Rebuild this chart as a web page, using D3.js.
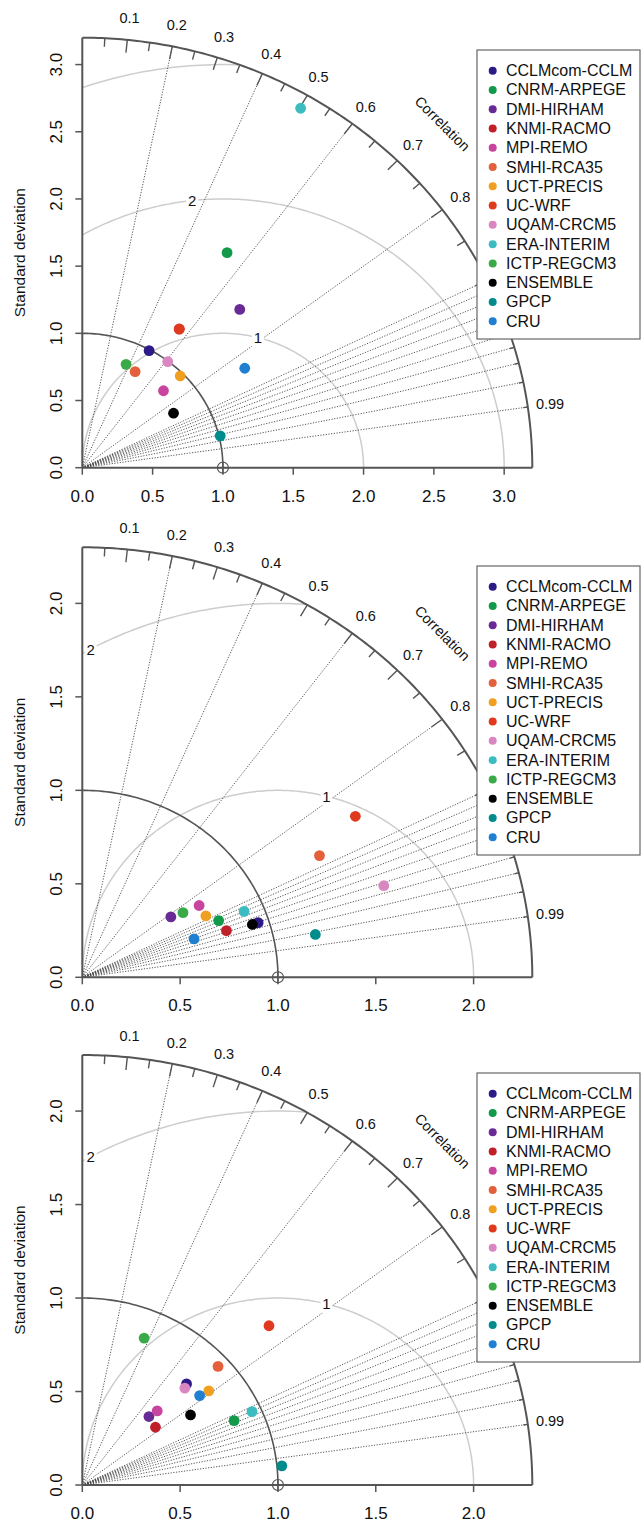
<!DOCTYPE html>
<html>
<head>
<meta charset="utf-8">
<script src="https://cdn.jsdelivr.net/npm/d3@7"></script>
<style>
  body { margin: 0; background: #fff; }
  svg { display: block; font-family: "Liberation Sans", Arial, sans-serif; }
</style>
</head>
<body>
<script>
// models in legend order
const models = ["CCLMcom-CCLM", "CNRM-ARPEGE", "DMI-HIRHAM", "KNMI-RACMO", "MPI-REMO",
  "SMHI-RCA35", "UCT-PRECIS", "UC-WRF", "UQAM-CRCM5", "ERA-INTERIM", "ICTP-REGCM3",
  "ENSEMBLE", "GPCP", "CRU"];
const colors = ["#2e1a87", "#129a4a", "#6a2a96", "#c0202a", "#c8449e", "#e4603c", "#f0a020",
  "#e03a1e", "#d987c0", "#3cbcc0", "#3aaa48", "#000000", "#008c8c", "#1f7fd0"];

// normalised standard deviation and correlation, one pair of arrays per panel
const sd1 = [0.992, 1.903, 1.625, 1.24, 0.813, 0.808, 0.975, 1.242, 0.996, 3.093, 0.830, 0.765, 1.009, 1.372];
const cor1 = [0.479, 0.541, 0.689, 0.556, 0.710, 0.465, 0.714, 0.555, 0.610, 0.502, 0.375, 0.848, 0.972, 0.842];
const sd2 = [0.945, 0.760, 0.556, 0.778, 0.710, 1.376, 0.712, 1.640, 1.617, 0.899, 0.620, 0.914, 1.213, 0.607];
const cor2 = [0.951, 0.917, 0.814, 0.947, 0.841, 0.881, 0.887, 0.851, 0.953, 0.920, 0.830, 0.951, 0.982, 0.941];
const sd3 = [0.759, 0.849, 0.500, 0.485, 0.551, 0.940, 0.819, 1.279, 0.737, 0.952, 0.847, 0.668, 1.025, 0.767];
const cor3 = [0.702, 0.914, 0.681, 0.771, 0.695, 0.738, 0.789, 0.746, 0.711, 0.911, 0.373, 0.828, 0.995, 0.782];

const sdTicks1 = [0, 0.5, 1, 1.5, 2, 2.5, 3];
const sdTicks23 = [0, 0.5, 1, 1.5, 2];
const corLabels = [0.1, 0.2, 0.3, 0.4, 0.5, 0.6, 0.7, 0.8, 0.9, 0.95, 0.99];
const bigTicks = [0.1, 0.2, 0.3, 0.4, 0.5, 0.6, 0.7, 0.8, 0.9];
const medTicks = [0.05, 0.15, 0.25, 0.35, 0.45, 0.55, 0.65, 0.75, 0.85, 0.95];
const tinyTicks = [0.91, 0.92, 0.93, 0.94, 0.95, 0.96, 0.97, 0.98, 0.99];
const corLines = [0.2, 0.4, 0.6, 0.8, 0.9, 0.91, 0.92, 0.93, 0.94, 0.95, 0.96, 0.97, 0.98, 0.99];

const panels = [
  { sd: sd1, cor: cor1, maxsd: 3.2, ticks: sdTicks1, gammas: [1, 2, 3], origin: 467.7, legendTop: 50 },
  { sd: sd2, cor: cor2, maxsd: 2.3, ticks: sdTicks23, gammas: [1, 2], origin: 977.3, legendTop: 566 },
  { sd: sd3, cor: cor3, maxsd: 2.3, ticks: sdTicks23, gammas: [1, 2], origin: 1485, legendTop: 1073 }
];

const W = 641, H = 1524;
const left = 82.3, plotW = 450, plotH = 430;
const axisCol = "#555";
const legX = 477, legW = 163, legH = 289;

const svg = d3.select("body").append("svg").attr("width", W).attr("height", H);

panels.forEach((p, pi) => {
  const x = d3.scaleLinear().domain([0, p.maxsd]).range([left, left + plotW]);
  const y = d3.scaleLinear().domain([0, p.maxsd]).range([p.origin, p.origin - plotH]);
  const g = svg.append("g");
  const line = d3.line().x(d => x(d[0])).y(d => y(d[1]));
  const arc = (r, cx, a0, a1, n) => d3.range(n + 1).map(i => {
    const a = a0 + (a1 - a0) * i / n;
    return [cx + r * Math.cos(a), r * Math.sin(a)];
  });
  const underLegend = (px, py) =>
    px > legX - 12 && px < legX + legW && py > p.legendTop - 8 && py < p.legendTop + legH + 8;

  // clip: quarter disc of radius maxsd
  const clipId = "clip" + pi;
  g.append("clipPath").attr("id", clipId)
    .append("path")
    .attr("d", line([[0, 0]].concat(arc(p.maxsd, 0, 0, Math.PI / 2, 120))) + "Z");

  // RMS difference circles around the reference point (1,0)
  const gg = g.append("g").attr("clip-path", `url(#${clipId})`);
  p.gammas.forEach(r => {
    gg.append("path")
      .attr("d", line(arc(r, 1, 0, Math.PI, 240)))
      .attr("fill", "none").attr("stroke", "#cdcdcd").attr("stroke-width", 1.5);
  });

  // correlation rays
  corLines.forEach(c => {
    const a = Math.acos(c);
    g.append("line")
      .attr("x1", x(0)).attr("y1", y(0))
      .attr("x2", x(p.maxsd * Math.cos(a))).attr("y2", y(p.maxsd * Math.sin(a)))
      .attr("stroke", "#444").attr("stroke-width", 0.9).attr("stroke-dasharray", "1.2,1.5");
  });

  // gamma labels (plotrix style label positions)
  const labelIdx = p.gammas.map((_, i) => Math.floor(45 + (70 - 45) * i / (p.gammas.length - 1)));
  p.gammas.forEach((r, i) => {
    const a = (labelIdx[i] - 1) * 0.03;
    const lx = 1 + r * Math.cos(a), ly = r * Math.sin(a);
    if (lx <= 0 || lx * lx + ly * ly > p.maxsd * p.maxsd) return;
    g.append("rect")
      .attr("x", x(lx) - 6).attr("y", y(ly) - 9).attr("width", 12).attr("height", 18)
      .attr("fill", "#fff");
    g.append("text")
      .attr("x", x(lx)).attr("y", y(ly))
      .attr("text-anchor", "middle").attr("dominant-baseline", "central")
      .attr("font-size", 15).attr("fill", "#111").text(r);
  });

  // reference sd arc and outer arc
  g.append("path").attr("d", line(arc(1, 0, 0, Math.PI / 2, 90)))
    .attr("fill", "none").attr("stroke", axisCol).attr("stroke-width", 1.6);
  g.append("path").attr("d", line(arc(p.maxsd, 0, 0, Math.PI / 2, 180)))
    .attr("fill", "none").attr("stroke", axisCol).attr("stroke-width", 2);

  // correlation ticks on the outer arc
  [[bigTicks, 0.97], [medTicks, 0.98], [tinyTicks, 0.99]].forEach(([arr, f]) => {
    arr.forEach(c => {
      const a = Math.acos(c);
      g.append("line")
        .attr("x1", x(p.maxsd * Math.cos(a))).attr("y1", y(p.maxsd * Math.sin(a)))
        .attr("x2", x(f * p.maxsd * Math.cos(a))).attr("y2", y(f * p.maxsd * Math.sin(a)))
        .attr("stroke", axisCol).attr("stroke-width", 1.4);
    });
  });
  corLabels.forEach(c => {
    const a = Math.acos(c);
    const px = x(1.05 * p.maxsd * Math.cos(a)), py = y(1.05 * p.maxsd * Math.sin(a));
    if (underLegend(px, py)) return; // hidden by the legend box
    g.append("text")
      .attr("x", px).attr("y", py)
      .attr("text-anchor", "middle").attr("dominant-baseline", "central")
      .attr("font-size", 14.5).attr("fill", "#111").text(c);
  });
  g.append("text")
    .attr("transform", `translate(${x(0.8 * p.maxsd)},${y(0.8 * p.maxsd)}) rotate(45)`)
    .attr("text-anchor", "middle").attr("dominant-baseline", "central")
    .attr("font-size", 14.5).attr("fill", "#111").text("Correlation");

  // axes
  g.append("line").attr("x1", x(0)).attr("y1", y(0)).attr("x2", x(p.maxsd)).attr("y2", y(0))
    .attr("stroke", axisCol).attr("stroke-width", 2);
  g.append("line").attr("x1", x(0)).attr("y1", y(0)).attr("x2", x(0)).attr("y2", y(p.maxsd))
    .attr("stroke", axisCol).attr("stroke-width", 2);
  p.ticks.forEach(t => {
    g.append("line").attr("x1", x(t)).attr("x2", x(t)).attr("y1", y(0)).attr("y2", y(0) + 7)
      .attr("stroke", axisCol).attr("stroke-width", 1.5);
    g.append("text").attr("x", x(t)).attr("y", y(0) + 28.5)
      .attr("text-anchor", "middle").attr("dominant-baseline", "central")
      .attr("font-size", 17).attr("fill", "#111").text(t.toFixed(1));
    g.append("line").attr("x1", x(0) - 7).attr("x2", x(0)).attr("y1", y(t)).attr("y2", y(t))
      .attr("stroke", axisCol).attr("stroke-width", 1.5);
    g.append("text").attr("transform", `translate(56,${y(t)}) rotate(-90)`)
      .attr("text-anchor", "middle").attr("dominant-baseline", "central")
      .attr("font-size", 17).attr("fill", "#111").text(t.toFixed(1));
  });
  g.append("text").attr("transform", `translate(19,${p.origin - plotH / 2}) rotate(-90)`)
    .attr("text-anchor", "middle").attr("dominant-baseline", "central")
    .attr("font-size", 15.5).attr("fill", "#111").text("Standard deviation");

  // reference point
  g.append("circle").attr("cx", x(1)).attr("cy", y(0)).attr("r", 5.5)
    .attr("fill", "none").attr("stroke", axisCol).attr("stroke-width", 1.2);
  g.append("line").attr("x1", x(1) - 5.5).attr("x2", x(1) + 5.5).attr("y1", y(0)).attr("y2", y(0))
    .attr("stroke", axisCol).attr("stroke-width", 1.2);
  g.append("line").attr("x1", x(1)).attr("x2", x(1)).attr("y1", y(0) - 5.5).attr("y2", y(0) + 5.5)
    .attr("stroke", axisCol).attr("stroke-width", 1.2);

  // model points
  g.selectAll(".pt").data(models).enter().append("circle")
    .attr("cx", (d, i) => x(p.sd[i] * p.cor[i]))
    .attr("cy", (d, i) => y(p.sd[i] * Math.sqrt(1 - p.cor[i] * p.cor[i])))
    .attr("r", 5.4)
    .attr("fill", (d, i) => colors[i]);

  // legend
  const lg = g.append("g");
  lg.append("rect").attr("x", legX).attr("y", p.legendTop).attr("width", legW).attr("height", legH)
    .attr("fill", "#fff").attr("stroke", "#666").attr("stroke-width", 1.2);
  models.forEach((m, i) => {
    const ry = p.legendTop + 20.7 + i * 19.27;
    lg.append("circle").attr("cx", 492.7).attr("cy", ry).attr("r", 4).attr("fill", colors[i]);
    lg.append("text").attr("x", 506).attr("y", ry).attr("dominant-baseline", "central")
      .attr("font-size", 16).attr("fill", "#111").text(m);
  });
});
</script>
</body>
</html>
